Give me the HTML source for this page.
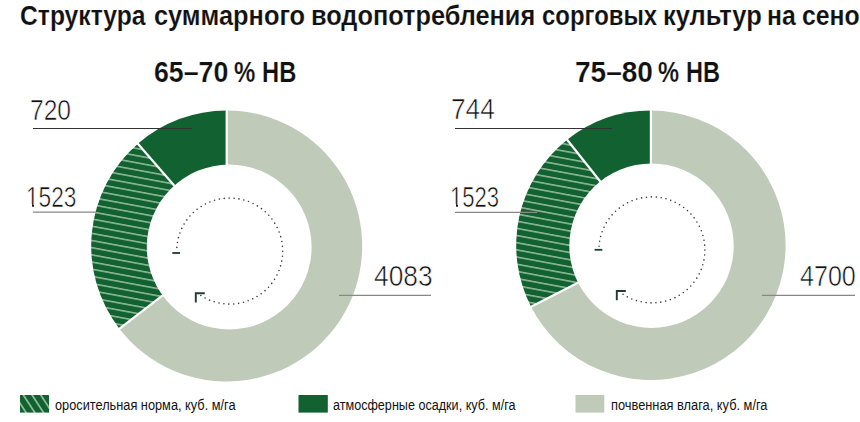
<!DOCTYPE html>
<html><head><meta charset="utf-8">
<style>
html,body{margin:0;padding:0;background:#fff;}
body{width:860px;height:422px;overflow:hidden;position:relative;font-family:"Liberation Sans",sans-serif;color:#111;}
svg{position:absolute;left:0;top:0;}
.t{position:absolute;white-space:nowrap;transform-origin:0 0;line-height:1;}
</style></head><body>
<svg width="860" height="422" viewBox="0 0 860 422"><defs>
<pattern id="hatchL" patternUnits="userSpaceOnUse" width="20" height="7.05" patternTransform="rotate(10.5) translate(0,0.38)">
<rect width="20" height="7.05" fill="#116131"/>
<rect y="0" width="20" height="1.6" fill="#8cb896"/>
</pattern>
<pattern id="hatchR" patternUnits="userSpaceOnUse" width="20" height="7.05" patternTransform="rotate(10.5) translate(0,2.64)">
<rect width="20" height="7.05" fill="#116131"/>
<rect y="0" width="20" height="1.6" fill="#8cb896"/>
</pattern>
<pattern id="hatch2" patternUnits="userSpaceOnUse" width="20" height="7.3" patternTransform="rotate(57) translate(0,4.83)">
<rect width="20" height="7.3" fill="#116131"/>
<rect y="0" width="20" height="1.8" fill="#8cb896"/>
</pattern>
</defs>
<path d="M226.7,246 L226.70,110.50 A135.5,135.5 0 1 1 119.41,328.76 Z" fill="#c0cab9"/>
<path d="M226.7,246 L119.41,328.76 A135.5,135.5 0 0 1 137.85,143.70 Z" fill="url(#hatchL)"/>
<path d="M226.7,246 L137.85,143.70 A135.5,135.5 0 0 1 226.70,110.50 Z" fill="#116131"/>
<line x1="226.7" y1="246" x2="226.70" y2="109.50" stroke="#fff" stroke-width="2.2"/>
<line x1="226.7" y1="246" x2="118.62" y2="329.37" stroke="#fff" stroke-width="2.2"/>
<line x1="226.7" y1="246" x2="137.20" y2="142.94" stroke="#fff" stroke-width="2.2"/>
<circle cx="229.2" cy="247" r="82.4" fill="#fff"/>
<path d="M650.9,245.3 L650.90,110.60 A134.7,134.7 0 1 1 531.03,306.75 Z" fill="#c0cab9"/>
<path d="M650.9,245.3 L531.03,306.75 A134.7,134.7 0 0 1 567.15,139.80 Z" fill="url(#hatchR)"/>
<path d="M650.9,245.3 L567.15,139.80 A134.7,134.7 0 0 1 650.90,110.60 Z" fill="#116131"/>
<line x1="650.9" y1="245.3" x2="650.90" y2="109.60" stroke="#fff" stroke-width="2.2"/>
<line x1="650.9" y1="245.3" x2="530.14" y2="307.20" stroke="#fff" stroke-width="2.2"/>
<line x1="650.9" y1="245.3" x2="566.53" y2="139.02" stroke="#fff" stroke-width="2.2"/>
<circle cx="651.5" cy="245.7" r="82.2" fill="#fff"/>
<line x1="33" y1="128.5" x2="192" y2="128.5" stroke="#333" stroke-width="1.2"/>
<line x1="33" y1="212.2" x2="96" y2="212.2" stroke="#888" stroke-width="1.2"/>
<line x1="339" y1="295.3" x2="431" y2="295.3" stroke="#888" stroke-width="1.2"/>
<line x1="455" y1="128.5" x2="612" y2="128.5" stroke="#333" stroke-width="1.2"/>
<line x1="455" y1="212.4" x2="537" y2="212.4" stroke="#888" stroke-width="1.2"/>
<line x1="762" y1="295.4" x2="855" y2="295.4" stroke="#888" stroke-width="1.2"/>
<circle cx="200.83" cy="295.55" r="0.8" fill="#3c3c3c"/>
<circle cx="205.10" cy="298.04" r="0.8" fill="#3c3c3c"/>
<circle cx="209.57" cy="300.13" r="0.8" fill="#3c3c3c"/>
<circle cx="214.22" cy="301.79" r="0.8" fill="#3c3c3c"/>
<circle cx="219.00" cy="303.01" r="0.8" fill="#3c3c3c"/>
<circle cx="223.88" cy="303.78" r="0.8" fill="#3c3c3c"/>
<circle cx="228.81" cy="304.09" r="0.8" fill="#3c3c3c"/>
<circle cx="233.74" cy="303.95" r="0.8" fill="#3c3c3c"/>
<circle cx="238.64" cy="303.34" r="0.8" fill="#3c3c3c"/>
<circle cx="243.47" cy="302.28" r="0.8" fill="#3c3c3c"/>
<circle cx="248.17" cy="300.78" r="0.8" fill="#3c3c3c"/>
<circle cx="252.71" cy="298.84" r="0.8" fill="#3c3c3c"/>
<circle cx="257.05" cy="296.50" r="0.8" fill="#3c3c3c"/>
<circle cx="261.16" cy="293.75" r="0.8" fill="#3c3c3c"/>
<circle cx="264.99" cy="290.64" r="0.8" fill="#3c3c3c"/>
<circle cx="268.52" cy="287.19" r="0.8" fill="#3c3c3c"/>
<circle cx="271.71" cy="283.42" r="0.8" fill="#3c3c3c"/>
<circle cx="274.53" cy="279.37" r="0.8" fill="#3c3c3c"/>
<circle cx="276.97" cy="275.07" r="0.8" fill="#3c3c3c"/>
<circle cx="278.99" cy="270.57" r="0.8" fill="#3c3c3c"/>
<circle cx="280.59" cy="265.90" r="0.8" fill="#3c3c3c"/>
<circle cx="281.75" cy="261.10" r="0.8" fill="#3c3c3c"/>
<circle cx="282.45" cy="256.21" r="0.8" fill="#3c3c3c"/>
<circle cx="282.70" cy="251.28" r="0.8" fill="#3c3c3c"/>
<circle cx="282.49" cy="246.35" r="0.8" fill="#3c3c3c"/>
<circle cx="281.82" cy="241.46" r="0.8" fill="#3c3c3c"/>
<circle cx="280.69" cy="236.65" r="0.8" fill="#3c3c3c"/>
<circle cx="279.13" cy="231.97" r="0.8" fill="#3c3c3c"/>
<circle cx="277.13" cy="227.45" r="0.8" fill="#3c3c3c"/>
<circle cx="274.73" cy="223.14" r="0.8" fill="#3c3c3c"/>
<circle cx="271.93" cy="219.07" r="0.8" fill="#3c3c3c"/>
<circle cx="268.76" cy="215.28" r="0.8" fill="#3c3c3c"/>
<circle cx="265.26" cy="211.80" r="0.8" fill="#3c3c3c"/>
<circle cx="261.45" cy="208.66" r="0.8" fill="#3c3c3c"/>
<circle cx="257.36" cy="205.89" r="0.8" fill="#3c3c3c"/>
<circle cx="253.04" cy="203.51" r="0.8" fill="#3c3c3c"/>
<circle cx="248.51" cy="201.55" r="0.8" fill="#3c3c3c"/>
<circle cx="243.82" cy="200.01" r="0.8" fill="#3c3c3c"/>
<circle cx="239.00" cy="198.92" r="0.8" fill="#3c3c3c"/>
<circle cx="234.11" cy="198.28" r="0.8" fill="#3c3c3c"/>
<circle cx="229.17" cy="198.10" r="0.8" fill="#3c3c3c"/>
<circle cx="224.24" cy="198.38" r="0.8" fill="#3c3c3c"/>
<circle cx="219.36" cy="199.12" r="0.8" fill="#3c3c3c"/>
<circle cx="214.57" cy="200.31" r="0.8" fill="#3c3c3c"/>
<circle cx="209.91" cy="201.93" r="0.8" fill="#3c3c3c"/>
<circle cx="205.42" cy="203.99" r="0.8" fill="#3c3c3c"/>
<circle cx="201.14" cy="206.45" r="0.8" fill="#3c3c3c"/>
<circle cx="197.11" cy="209.30" r="0.8" fill="#3c3c3c"/>
<circle cx="193.36" cy="212.52" r="0.8" fill="#3c3c3c"/>
<circle cx="189.93" cy="216.07" r="0.8" fill="#3c3c3c"/>
<circle cx="186.84" cy="219.92" r="0.8" fill="#3c3c3c"/>
<circle cx="184.13" cy="224.04" r="0.8" fill="#3c3c3c"/>
<circle cx="181.81" cy="228.40" r="0.8" fill="#3c3c3c"/>
<circle cx="179.90" cy="232.96" r="0.8" fill="#3c3c3c"/>
<circle cx="178.43" cy="237.67" r="0.8" fill="#3c3c3c"/>
<circle cx="177.40" cy="242.50" r="0.8" fill="#3c3c3c"/>
<circle cx="176.83" cy="247.40" r="0.8" fill="#3c3c3c"/>
<circle cx="623.03" cy="294.35" r="0.8" fill="#3c3c3c"/>
<circle cx="627.30" cy="296.84" r="0.8" fill="#3c3c3c"/>
<circle cx="631.77" cy="298.93" r="0.8" fill="#3c3c3c"/>
<circle cx="636.42" cy="300.59" r="0.8" fill="#3c3c3c"/>
<circle cx="641.20" cy="301.81" r="0.8" fill="#3c3c3c"/>
<circle cx="646.08" cy="302.58" r="0.8" fill="#3c3c3c"/>
<circle cx="651.01" cy="302.89" r="0.8" fill="#3c3c3c"/>
<circle cx="655.94" cy="302.75" r="0.8" fill="#3c3c3c"/>
<circle cx="660.84" cy="302.14" r="0.8" fill="#3c3c3c"/>
<circle cx="665.67" cy="301.08" r="0.8" fill="#3c3c3c"/>
<circle cx="670.37" cy="299.58" r="0.8" fill="#3c3c3c"/>
<circle cx="674.91" cy="297.64" r="0.8" fill="#3c3c3c"/>
<circle cx="679.25" cy="295.30" r="0.8" fill="#3c3c3c"/>
<circle cx="683.36" cy="292.55" r="0.8" fill="#3c3c3c"/>
<circle cx="687.19" cy="289.44" r="0.8" fill="#3c3c3c"/>
<circle cx="690.72" cy="285.99" r="0.8" fill="#3c3c3c"/>
<circle cx="693.91" cy="282.22" r="0.8" fill="#3c3c3c"/>
<circle cx="696.73" cy="278.17" r="0.8" fill="#3c3c3c"/>
<circle cx="699.17" cy="273.87" r="0.8" fill="#3c3c3c"/>
<circle cx="701.19" cy="269.37" r="0.8" fill="#3c3c3c"/>
<circle cx="702.79" cy="264.70" r="0.8" fill="#3c3c3c"/>
<circle cx="703.95" cy="259.90" r="0.8" fill="#3c3c3c"/>
<circle cx="704.65" cy="255.01" r="0.8" fill="#3c3c3c"/>
<circle cx="704.90" cy="250.08" r="0.8" fill="#3c3c3c"/>
<circle cx="704.69" cy="245.15" r="0.8" fill="#3c3c3c"/>
<circle cx="704.02" cy="240.26" r="0.8" fill="#3c3c3c"/>
<circle cx="702.89" cy="235.45" r="0.8" fill="#3c3c3c"/>
<circle cx="701.33" cy="230.77" r="0.8" fill="#3c3c3c"/>
<circle cx="699.33" cy="226.25" r="0.8" fill="#3c3c3c"/>
<circle cx="696.93" cy="221.94" r="0.8" fill="#3c3c3c"/>
<circle cx="694.13" cy="217.87" r="0.8" fill="#3c3c3c"/>
<circle cx="690.96" cy="214.08" r="0.8" fill="#3c3c3c"/>
<circle cx="687.46" cy="210.60" r="0.8" fill="#3c3c3c"/>
<circle cx="683.65" cy="207.46" r="0.8" fill="#3c3c3c"/>
<circle cx="679.56" cy="204.69" r="0.8" fill="#3c3c3c"/>
<circle cx="675.24" cy="202.31" r="0.8" fill="#3c3c3c"/>
<circle cx="670.71" cy="200.35" r="0.8" fill="#3c3c3c"/>
<circle cx="666.02" cy="198.81" r="0.8" fill="#3c3c3c"/>
<circle cx="661.20" cy="197.72" r="0.8" fill="#3c3c3c"/>
<circle cx="656.31" cy="197.08" r="0.8" fill="#3c3c3c"/>
<circle cx="651.37" cy="196.90" r="0.8" fill="#3c3c3c"/>
<circle cx="646.44" cy="197.18" r="0.8" fill="#3c3c3c"/>
<circle cx="641.56" cy="197.92" r="0.8" fill="#3c3c3c"/>
<circle cx="636.77" cy="199.11" r="0.8" fill="#3c3c3c"/>
<circle cx="632.11" cy="200.73" r="0.8" fill="#3c3c3c"/>
<circle cx="627.62" cy="202.79" r="0.8" fill="#3c3c3c"/>
<circle cx="623.34" cy="205.25" r="0.8" fill="#3c3c3c"/>
<circle cx="619.31" cy="208.10" r="0.8" fill="#3c3c3c"/>
<circle cx="615.56" cy="211.32" r="0.8" fill="#3c3c3c"/>
<circle cx="612.13" cy="214.87" r="0.8" fill="#3c3c3c"/>
<circle cx="609.04" cy="218.72" r="0.8" fill="#3c3c3c"/>
<circle cx="606.33" cy="222.84" r="0.8" fill="#3c3c3c"/>
<circle cx="604.01" cy="227.20" r="0.8" fill="#3c3c3c"/>
<circle cx="602.10" cy="231.76" r="0.8" fill="#3c3c3c"/>
<circle cx="600.63" cy="236.47" r="0.8" fill="#3c3c3c"/>
<circle cx="599.60" cy="241.30" r="0.8" fill="#3c3c3c"/>
<circle cx="599.03" cy="246.20" r="0.8" fill="#3c3c3c"/>
<line x1="172.3" y1="253" x2="180.0" y2="253" stroke="#1d3d2d" stroke-width="1.8"/>
<path d="M204.8,293.2 L195.8,293.2 L195.8,302.5" fill="none" stroke="#1d3d2d" stroke-width="1.9"/>
<line x1="594.6" y1="249.8" x2="602.3000000000001" y2="249.8" stroke="#1d3d2d" stroke-width="1.8"/>
<path d="M625.8,291 L616.8,291 L616.8,300.3" fill="none" stroke="#1d3d2d" stroke-width="1.9"/>
<rect x="20" y="395" width="29" height="17.6" fill="url(#hatch2)"/>
<rect x="298.5" y="395" width="29.3" height="17.6" fill="#116131"/>
<rect x="575.5" y="395" width="28.8" height="17.6" fill="#c0cab9"/></svg>
<div class="t" style="left:19.94px;top:2.10px;font-size:27.80px;font-weight:bold;transform:scaleX(0.8871);color:#111;-webkit-text-stroke:0.15px #fff">Структура</div>
<div class="t" style="left:154.43px;top:2.10px;font-size:27.80px;font-weight:bold;transform:scaleX(0.9118);color:#111;-webkit-text-stroke:0.15px #fff">суммарного</div>
<div class="t" style="left:310.82px;top:2.10px;font-size:27.80px;font-weight:bold;transform:scaleX(0.9112);color:#111;-webkit-text-stroke:0.15px #fff">водопотребления</div>
<div class="t" style="left:541.97px;top:2.10px;font-size:27.80px;font-weight:bold;transform:scaleX(0.8598);color:#111;-webkit-text-stroke:0.15px #fff">сорговых</div>
<div class="t" style="left:662.84px;top:2.10px;font-size:27.80px;font-weight:bold;transform:scaleX(0.9171);color:#111;-webkit-text-stroke:0.15px #fff">культур</div>
<div class="t" style="left:766.82px;top:2.10px;font-size:27.80px;font-weight:bold;transform:scaleX(0.8907);color:#111;-webkit-text-stroke:0.15px #fff">на</div>
<div class="t" style="left:801.92px;top:2.10px;font-size:27.80px;font-weight:bold;transform:scaleX(0.8912);color:#111;-webkit-text-stroke:0.15px #fff">сено</div>
<div class="t" style="left:153.94px;top:56.68px;font-size:29.50px;font-weight:bold;transform:scaleX(0.9051);color:#111;-webkit-text-stroke:0.2px #fff">65–70</div>
<div class="t" style="left:234.45px;top:56.68px;font-size:29.50px;font-weight:bold;transform:scaleX(0.8111);color:#111;-webkit-text-stroke:0.2px #fff">%</div>
<div class="t" style="left:261.50px;top:56.68px;font-size:29.50px;font-weight:bold;transform:scaleX(0.8040);color:#111;-webkit-text-stroke:0.2px #fff">НВ</div>
<div class="t" style="left:575.05px;top:56.68px;font-size:29.50px;font-weight:bold;transform:scaleX(0.9501);color:#111;-webkit-text-stroke:0.2px #fff">75–80</div>
<div class="t" style="left:658.06px;top:56.68px;font-size:29.50px;font-weight:bold;transform:scaleX(0.8023);color:#111;-webkit-text-stroke:0.2px #fff">%</div>
<div class="t" style="left:685.63px;top:56.68px;font-size:29.50px;font-weight:bold;transform:scaleX(0.7991);color:#111;-webkit-text-stroke:0.2px #fff">НВ</div>
<div class="t" style="left:30.41px;top:94.63px;font-size:30.00px;transform:scaleX(0.8189);color:#111;-webkit-text-stroke:0.6px #fff">720</div>
<div class="t" style="left:26.14px;top:181.83px;font-size:30.00px;transform:scaleX(0.7562);color:#111;-webkit-text-stroke:0.6px #fff">1523</div>
<div class="t" style="left:373.95px;top:261.23px;font-size:30.00px;transform:scaleX(0.8780);color:#111;-webkit-text-stroke:0.6px #fff">4083</div>
<div class="t" style="left:450.93px;top:93.97px;font-size:30.00px;transform:scaleX(0.8753);color:#111;-webkit-text-stroke:0.6px #fff">744</div>
<div class="t" style="left:449.84px;top:181.75px;font-size:30.00px;transform:scaleX(0.7365);color:#111;-webkit-text-stroke:0.6px #fff">1523</div>
<div class="t" style="left:799.94px;top:261.21px;font-size:30.00px;transform:scaleX(0.8357);color:#111;-webkit-text-stroke:0.6px #fff">4700</div>
<div class="t" style="left:54.90px;top:397.48px;font-size:15.30px;transform:scaleX(0.8342);color:#111;-webkit-text-stroke:0.0px #fff">оросительная норма, куб. м/га</div>
<div class="t" style="left:332.54px;top:397.48px;font-size:15.30px;transform:scaleX(0.8241);color:#111;-webkit-text-stroke:0.0px #fff">атмосферные осадки, куб. м/га</div>
<div class="t" style="left:611.00px;top:397.48px;font-size:15.30px;transform:scaleX(0.8380);color:#111;-webkit-text-stroke:0.0px #fff">почвенная влага, куб. м/га</div>
<div style="position:absolute;left:26.5px;top:203.9px;width:5.5px;height:3.5999999999999943px;background:#fff"></div>
<div style="position:absolute;left:34.0px;top:203.9px;width:4.5px;height:3.5999999999999943px;background:#fff"></div>
<div style="position:absolute;left:450.5px;top:203.9px;width:5.5px;height:3.5999999999999943px;background:#fff"></div>
<div style="position:absolute;left:458.0px;top:203.9px;width:4.5px;height:3.5999999999999943px;background:#fff"></div>
</body></html>
